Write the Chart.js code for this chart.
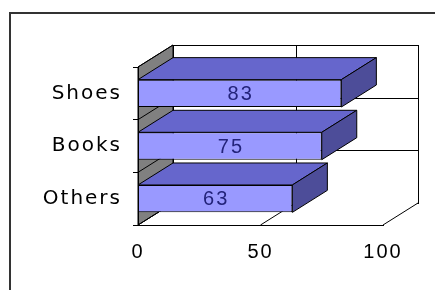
<!DOCTYPE html>
<html>
<head>
<meta charset="utf-8">
<script src="https://cdn.jsdelivr.net/npm/chart.js@4/dist/chart.umd.min.js"></script>
<style>
  html, body { margin: 0; padding: 0; background: #fff; }
  canvas { display: block; }
</style>
</head>
<body>
<canvas id="c" width="435" height="290"></canvas>
<script>
// ---- data ----
const categories = ['Shoes', 'Books', 'Others'];
const values = [83, 75, 63];
const xTickValues = [0, 50, 100];

// ---- style constants ----
const DX = 35, DY = -22;          // 3D depth offset
const FRONT = '#9999FF', TOP = '#6666CC', SIDE = '#4D4D99', WALL = '#808080';

const threeD = {
  id: 'threeD',
  beforeDraw(chart) {
    const ctx = chart.ctx;
    ctx.letterSpacing = '2px';
    const xs = chart.scales.x, ys = chart.scales.y;
    const top = chart.chartArea.top, bottom = chart.chartArea.bottom;
    const x0 = xs.getPixelForValue(xs.min), x1 = xs.getPixelForValue(xs.max);
    ctx.save();
    // outer frame
    ctx.strokeStyle = '#333'; ctx.lineWidth = 2;
    ctx.beginPath(); ctx.moveTo(10, 290); ctx.lineTo(10, 13); ctx.lineTo(435, 13); ctx.stroke();
    ctx.lineWidth = 1; ctx.strokeStyle = '#000';
    // back wall
    ctx.fillStyle = '#fff';
    ctx.fillRect(x0 + DX, top + DY, x1 - x0, bottom - top);
    ctx.strokeRect(x0 + DX + 0.5, top + DY + 0.5, x1 - x0, bottom - top);
    // back wall gridlines (vertical)
    ctx.beginPath();
    xTickValues.forEach(v => {
      const px = Math.round(xs.getPixelForValue(v) + DX) + 0.5;
      ctx.moveTo(px, top + DY); ctx.lineTo(px, bottom + DY);
    });
    // back wall horizontal lines at category boundaries
    const bounds = [];
    for (let i = 0; i <= categories.length; i++) {
      bounds.push(ys.getPixelForValue(i - 0.5));
    }
    bounds.forEach(b => {
      const py = Math.round(b + DY) + 0.5;
      ctx.moveTo(x0 + DX, py); ctx.lineTo(x1 + DX, py);
    });
    ctx.stroke();
    // floor
    ctx.fillStyle = '#fff';
    ctx.beginPath();
    ctx.moveTo(x0, bottom); ctx.lineTo(x0 + DX, bottom + DY);
    ctx.lineTo(x1 + DX, bottom + DY); ctx.lineTo(x1, bottom); ctx.closePath();
    ctx.fill();
    ctx.beginPath();
    xTickValues.forEach(v => {
      const px = xs.getPixelForValue(v);
      ctx.moveTo(px, bottom); ctx.lineTo(px + DX, bottom + DY);
    });
    ctx.stroke();
    // left (value 0) wall
    ctx.fillStyle = WALL;
    ctx.beginPath();
    ctx.moveTo(x0, top); ctx.lineTo(x0 + DX, top + DY);
    ctx.lineTo(x0 + DX, bottom + DY); ctx.lineTo(x0, bottom); ctx.closePath();
    ctx.fill(); ctx.stroke();
    ctx.beginPath();
    bounds.forEach(b => { ctx.moveTo(x0, b); ctx.lineTo(x0 + DX, b + DY); });
    ctx.stroke();
    ctx.restore();
  },
  beforeDatasetsDraw(chart) {
    const ctx = chart.ctx;
    const meta = chart.getDatasetMeta(0);
    ctx.save();
    ctx.lineWidth = 1; ctx.strokeStyle = '#000';
    meta.data.forEach(el => {
      const p = el.getProps(['x', 'y', 'base', 'height'], true);
      const yT = p.y - p.height / 2, yB = p.y + p.height / 2;
      // top face
      ctx.fillStyle = TOP;
      ctx.beginPath();
      ctx.moveTo(p.base, yT); ctx.lineTo(p.x, yT);
      ctx.lineTo(p.x + DX, yT + DY); ctx.lineTo(p.base + DX, yT + DY); ctx.closePath();
      ctx.fill(); ctx.stroke();
      // side face
      ctx.fillStyle = SIDE;
      ctx.beginPath();
      ctx.moveTo(p.x, yT); ctx.lineTo(p.x + DX, yT + DY);
      ctx.lineTo(p.x + DX, yB + DY); ctx.lineTo(p.x, yB); ctx.closePath();
      ctx.fill(); ctx.stroke();
    });
    ctx.restore();
  },
  afterDatasetsDraw(chart) {
    const ctx = chart.ctx;
    const meta = chart.getDatasetMeta(0);
    ctx.save();
    ctx.font = '20px "Liberation Sans", Arial, sans-serif';
    ctx.fillStyle = '#23237A';
    ctx.textAlign = 'center'; ctx.textBaseline = 'middle';
    meta.data.forEach((el, i) => {
      const p = el.getProps(['x', 'y', 'base'], true);
      ctx.fillText(String(values[i]), (p.base + p.x) / 2 + 1, p.y + 1);
    });
    ctx.restore();
  }
};

new Chart(document.getElementById('c'), {
  type: 'bar',
  data: {
    labels: categories,
    datasets: [{
      data: values,
      backgroundColor: FRONT,
      borderColor: '#000',
      borderWidth: 1,
      borderSkipped: false,
      barPercentage: 0.52,
      categoryPercentage: 1
    }]
  },
  options: {
    indexAxis: 'y',
    responsive: false,
    animation: false,
    events: [],
    layout: { padding: { top: 67, right: 52, left: 0, bottom: 0 } },
    plugins: { legend: { display: false }, tooltip: { enabled: false } },
    scales: {
      x: {
        min: 0, max: 100,
        afterBuildTicks(scale) { scale.ticks = xTickValues.map(v => ({ value: v })); },
        afterFit(scale) { scale.height = 65; },
        grid: { display: false, drawTicks: false },
        border: { display: true, color: '#000', width: 1 },
        ticks: {
          color: '#000', padding: 15, maxRotation: 0,
          font: { family: '"Liberation Sans", Arial, sans-serif', size: 20 }
        }
      },
      y: {
        afterFit(scale) { scale.width = 138; },
        grid: { offset: true, drawOnChartArea: false, drawTicks: true, tickLength: 5, color: '#000' },
        border: { display: true, color: '#000', width: 1 },
        ticks: {
          color: '#000', padding: 11,
          font: { family: '"DejaVu Sans", sans-serif', size: 20 }
        }
      }
    }
  },
  plugins: [threeD]
});
</script>
</body>
</html>
